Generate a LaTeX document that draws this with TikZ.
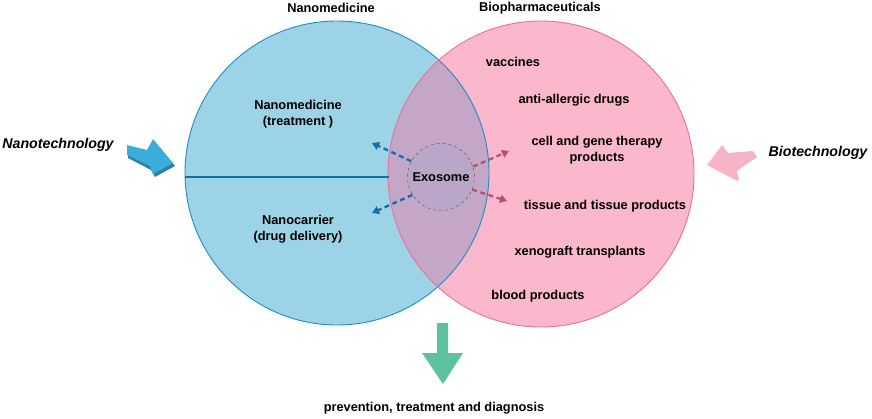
\documentclass[tikz,border=0pt]{standalone}
\usepackage{fontspec}
\setmainfont{Liberation Sans}
\usetikzlibrary{arrows.meta}
\definecolor{nanofill}{HTML}{9DD3E7}
\definecolor{nanoline}{HTML}{1C8DC6}
\definecolor{biofill}{HTML}{FBB7CB}
\definecolor{bioline}{HTML}{EE6F9A}
\definecolor{mixfill}{HTML}{C4A6C6}
\definecolor{exofill}{HTML}{B9A6C8}
\definecolor{bluedark}{HTML}{136FA6}
\definecolor{pinkdark}{HTML}{B9506F}
\definecolor{arrowblue}{HTML}{3AADDB}
\definecolor{arrowpink}{HTML}{F7B4C6}
\definecolor{arrowgreen}{HTML}{5CC29F}
\begin{document}
\begin{tikzpicture}[x=1pt,y=-1pt]
\useasboundingbox (0,0) rectangle (872,418);
\tikzstyle{every node}=[font=\bfseries\fontsize{12.8}{16}\selectfont,align=center];
\tikzstyle{bigword}=[font=\bfseries\itshape\fontsize{14.2}{16}\selectfont];
\tikzstyle{bluedash}=[bluedark,line width=2.3pt,dash pattern=on 5pt off 3.5pt,-{Triangle[length=7pt,width=8pt]}];
\tikzstyle{pinkdash}=[pinkdark,line width=2.3pt,dash pattern=on 5pt off 3.5pt,-{Triangle[length=7pt,width=8pt]}];
% circles
\fill[nanofill] (337,173) circle (152);
\fill[biofill] (541,174) circle (153);
\begin{scope}
\clip (337,173) circle (152);
\fill[mixfill] (541,174) circle (153);
\end{scope}
\draw[nanoline,line width=0.9pt] (337,173) circle (152);
\draw[bioline,line width=0.9pt] (541,174) circle (153);
\coordinate (l1) at (185,177);
\coordinate (l2) at (389,177);
\draw[bluedark,line width=1.8pt] (l1) -- (l2);
% titles
\node (nm) at (331,8) {Nanomedicine};
\node (bp) at (540,8) {Biopharmaceuticals};
\node (treat) at (298,114) {Nanomedicine\\(treatment )};
\node (carrier) at (298,229) {Nanocarrier\\(drug delivery)};
\node (vac) at (513,62) {vaccines};
\node (anti) at (574,100) {anti-allergic drugs};
\node (cell) at (597,150) {cell and gene therapy\\products};
\node (tissue) at (605,206) {tissue and tissue products};
\node (xeno) at (580,252) {xenograft transplants};
\node (blood) at (538,296) {blood products};
\node (prev) at (434,408) {prevention, treatment and diagnosis};
\node[bigword] (nt) at (58,145) {Nanotechnology};
\node[bigword] (bt) at (818,153) {Biotechnology};
% exosome
\node[circle,draw=black!65,dashed,fill=exofill,minimum size=67pt,inner sep=0pt] (exo) at (441,177) {Exosome};
\coordinate (a1) at (372,143);
\coordinate (a2) at (372,213);
\coordinate (a3) at (509,151);
\coordinate (a4) at (507,201);
\draw[bluedash] (exo.152) -- (a1);
\draw[bluedash] (exo.212) -- (a2);
\draw[pinkdash] (exo.18) -- (a3);
\draw[pinkdash] (exo.-22) -- (a4);
% block arrows
\fill[arrowblue!75!black] (128,148) -- (148,153) -- (155,142) -- (175,166) -- (155,177) -- (151,170) -- (128,158) -- cycle;
\fill[arrowblue] (127,145) -- (147,150) -- (153,139) -- (173,163) -- (153,174) -- (150,166) -- (127,155) -- cycle;
\fill[arrowpink] (707,165) -- (722,145) -- (728,153) -- (753,151) -- (757,157) -- (737,171) -- (739,179) -- (737,181) -- cycle;
\fill[arrowgreen] (437,323) -- (448,323) -- (448,353) -- (463,353) -- (443,384) -- (422,353) -- (437,353) -- cycle;
\end{tikzpicture}
\end{document}
